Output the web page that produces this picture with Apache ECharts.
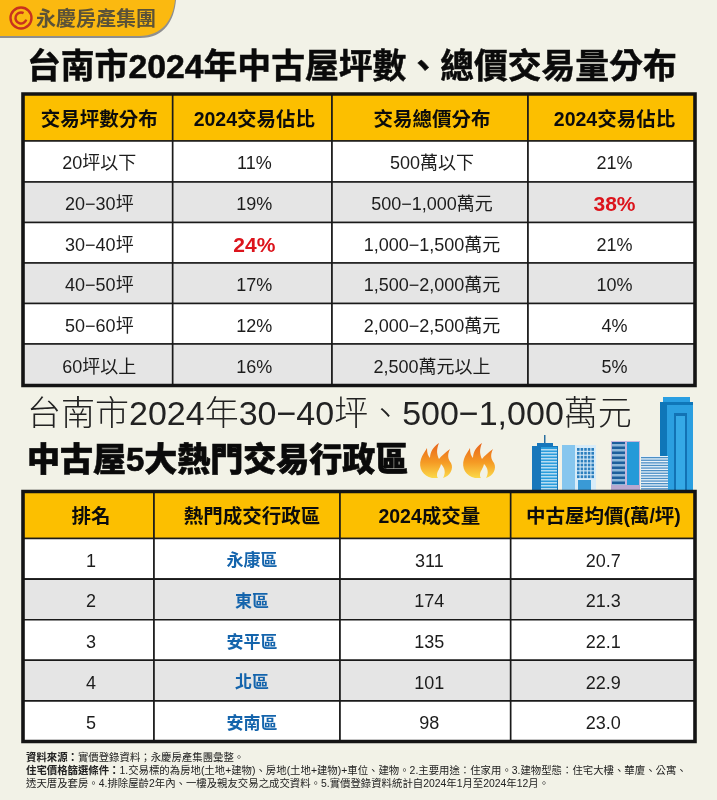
<!DOCTYPE html>
<html>
<head>
<meta charset="utf-8">
<script src="https://cdn.jsdelivr.net/npm/echarts@6/dist/echarts.min.js"></script>
<style>
  html, body { margin: 0; padding: 0; background: #f2f2e7; }
  #chart { width: 717px; height: 800px; }
</style>
</head>
<body>
<div id="chart"></div>
<script>
// table 1
const sizeHeaders = ["交易坪數分布", "2024交易佔比", "交易總價分布", "2024交易佔比"];
const sizeRanges = ["20坪以下", "20−30坪", "30−40坪", "40−50坪", "50−60坪", "60坪以上"];
const sizeShares = [11, 19, 24, 17, 12, 16];
const priceRanges = ["500萬以下", "500−1,000萬元", "1,000−1,500萬元", "1,500−2,000萬元", "2,000−2,500萬元", "2,500萬元以上"];
const priceShares = [21, 38, 21, 10, 4, 5];

// table 2
const rankHeaders = ["排名", "熱門成交行政區", "2024成交量", "中古屋均價(萬/坪)"];
const ranks = [1, 2, 3, 4, 5];
const districts = ["永康區", "東區", "安平區", "北區", "安南區"];
const volumes = [311, 174, 135, 101, 98];
const avgPrices = [20.7, 21.3, 22.1, 22.9, 23.0];

const FONT = '"Liberation Sans", "Noto Sans CJK TC", sans-serif';
const YELLOW = "#fcbf00";
const GRAY = "#e5e5e5";
const BLACK = "#141414";

// column and row edges of each table, in px from the table's corner
const colEdges1 = [0, 149.7, 309, 505, 672];
const rowEdges1 = [0, 47, 88, 128.5, 169, 209.5, 250, 291.5];
const colEdges2 = [0, 131, 317, 487.7, 672];
const rowEdges2 = [0, 47, 87.6, 128.2, 168.8, 209.4, 250];
// the text does not sit quite in the middle of its column
const textShift1 = [1.5, 2, 2, 3];
const textShift2 = [2.5, 5, 4, 0.5];

// kind: h header, n normal, r red highlight, b blue district
function buildCells(headers, columns) {
  const cells = [];
  headers.forEach((h, c) => cells.push({ value: [c, 0], text: h, kind: "h" }));
  columns.forEach((col, c) => {
    col.forEach((item, r) => {
      cells.push({ value: [c, r + 1], text: item.text, kind: item.kind });
    });
  });
  return cells;
}

const pct = (v, arr) => ({ text: v + "%", kind: v === Math.max(...arr) ? "r" : "n" });
const plain = v => ({ text: String(v), kind: "n" });

const cells1 = buildCells(sizeHeaders, [
  sizeRanges.map(plain),
  sizeShares.map(v => pct(v, sizeShares)),
  priceRanges.map(plain),
  priceShares.map(v => pct(v, priceShares))
]);
const cells2 = buildCells(rankHeaders, [
  ranks.map(plain),
  districts.map(v => ({ text: v, kind: "b" })),
  volumes.map(plain),
  avgPrices.map(v => plain(v.toFixed(1)))
]);

function cellRenderer(cells, cols, rows, shifts) {
  return (params, api) => {
    const cell = cells[params.dataIndex];
    const c = api.value(0), r = api.value(1);
    const a = api.coord([cols[c], rows[r]]);
    const b = api.coord([cols[c + 1], rows[r + 1]]);
    let fill = "#fff";
    if (cell.kind === "h") fill = YELLOW;
    else if (r % 2 === 0) fill = GRAY;

    const style = { fill: "#1c1c1c", fontSize: 18, fontWeight: "normal" };
    if (cell.kind === "h") { style.fontSize = 19.5; style.fontWeight = "bold"; style.fill = "#0c0c0c"; }
    if (cell.kind === "r") { style.fontSize = 21; style.fontWeight = "bold"; style.fill = "#dc141c"; }
    if (cell.kind === "b") { style.fontSize = 17; style.fontWeight = "bold"; style.fill = "#1464ac"; }

    return {
      type: "group",
      children: [
        { type: "rect", shape: { x: a[0], y: a[1], width: b[0] - a[0], height: b[1] - a[1] },
          style: { fill: fill, stroke: "#1a1a1a", lineWidth: 1.6 } },
        { type: "text", style: Object.assign({
            x: (a[0] + b[0]) / 2 + shifts[c], y: (a[1] + b[1]) / 2 + 3,
            text: cell.text, align: "center", verticalAlign: "middle", fontFamily: FONT
          }, style) }
      ]
    };
  };
}

// thick outer frame on top of the cells
function frameRenderer(params) {
  const g = params.coordSys;
  return { type: "rect", shape: { x: g.x, y: g.y, width: g.width, height: g.height },
    style: { fill: "none", stroke: BLACK, lineWidth: 3.6 } };
}

const flamePath = "M13 35C4 33 -1 25 2 16C3 12 6 9 8 5C8 10 9 13 11 15C11 9 14 4 20 0C17 7 18 12 20 16C22 13 26 10 31 6C28 12 29 16 32 20C35 26 31 33 24 35C27 30 26 25 22 21C21 26 18 28 18 32C18 33 18 34 19 35C17 35 15 35 13 35Z";
const flameFill = { type: "linear", x: 0, y: 0, x2: 0, y2: 1, colorStops: [
  { offset: 0, color: "#e8641c" }, { offset: 0.55, color: "#f59a24" }, { offset: 1, color: "#fbd94a" }] };

function box(x, y, w, h, fill) {
  return { type: "rect", shape: { x, y, width: w, height: h }, style: { fill } };
}
function stripes(x, y, w, h, step, fill) {
  const out = [];
  for (let yy = y; yy < y + h; yy += step) out.push(box(x, yy, w, step / 2, fill));
  return out;
}
function windows(x, y, nx, ny, fill) {
  const out = [];
  for (let i = 0; i < nx; i++) for (let j = 0; j < ny; j++) out.push(box(x + i * 3.6, y + j * 3.9, 2.6, 2.8, fill));
  return out;
}

const decoration = [
  // logo tab
  { type: "path", shape: { pathData: "M0 0H176C174 20 165 38 140 38H0Z" }, style: { fill: "#8f8f8f" } },
  { type: "path", shape: { pathData: "M0 0H175C173 19 163 36 139 36H0Z" }, style: { fill: "#fbb910" } },
  { type: "circle", shape: { cx: 21, cy: 18, r: 10.5 }, style: { fill: "none", stroke: "#c8321e", lineWidth: 2.4 } },
  { type: "arc", shape: { cx: 21, cy: 18, r: 5.5, startAngle: 0.3, endAngle: 5.2 }, style: { fill: "none", stroke: "#c8321e", lineWidth: 2.4 } },
  { type: "text", style: { x: 36, y: 18, text: "永慶房產集團", fontSize: 20, fontWeight: "bold", fill: "#5b5238",
      fontFamily: '"Noto Sans CJK TC"', verticalAlign: "middle" } },

  // flames
  { type: "path", x: 419, y: 443, shape: { pathData: flamePath }, style: { fill: flameFill } },
  { type: "path", x: 462, y: 443, shape: { pathData: flamePath }, style: { fill: flameFill } },

  // buildings
  box(660, 402, 33, 88, "#0f76b8"),
  box(663, 397, 27, 5, "#2a9fe2"),
  box(667, 405, 26, 85, "#2b9fe0"),
  box(674, 413, 13, 77, "#1272b4"),
  box(676, 416, 9, 74, "#35a9e6"),
  box(532, 446, 26, 44, "#1877bb"),
  box(544, 435, 1.5, 10, "#2a6f9f"),
  box(537, 443, 16, 3, "#1877bb"),
  box(541, 447, 16, 43, "#2b9ddc"),
  ...stripes(541, 449, 16, 40, 3, "#b6dcf2"),
  box(562, 445, 34, 45, "#d8ecf8"),
  box(562, 445, 13, 45, "#86c6ee"),
  ...windows(577, 448, 5, 8, "#2c7fbe"),
  box(578, 480, 13, 10, "#3a9ad6"),
  box(611, 441, 29, 45, "#c6b6dc"),
  box(612, 442, 13, 44, "#1c5f9c"),
  ...stripes(612, 444, 13, 42, 5, "#8fb8d8"),
  box(627, 442, 12, 44, "#249ad8"),
  box(611, 485, 29, 5, "#b8a8d0"),
  box(641, 456, 27, 34, "#e8f2fa"),
  ...stripes(641, 457, 27, 33, 2.6, "#4c8fc4")
];

const footerStyle = {
  fontFamily: FONT, fontSize: 10.4, fontWeight: "normal", color: "#222",
  rich: { b: { fontWeight: "bold", fontSize: 10.4, color: "#222", fontFamily: FONT } }
};

const option = {
  backgroundColor: "#f2f2e7",
  animation: false,
  title: [
    { text: "台南市2024年中古屋坪數、總價交易量分布", left: 27, top: 52, padding: 0,
      textStyle: { fontFamily: FONT, fontSize: 33.8, fontWeight: "bold", color: "#0a0a0a", textBorderColor: "#0a0a0a", textBorderWidth: 0.5 } },
    { text: "台南市2024年30−40坪、500−1,000萬元", left: 27, top: 399, padding: 0,
      textStyle: { fontFamily: FONT, fontSize: 34, fontWeight: 300, color: "#222" } },
    { text: "中古屋5大熱門交易行政區", left: 27, top: 445, padding: 0,
      textStyle: { fontFamily: FONT, fontSize: 33, fontWeight: 900, color: "#0a0a0a", textBorderColor: "#0a0a0a", textBorderWidth: 0.6 } },
    { text: "{b|資料來源：}實價登錄資料；永慶房產集團彙整。", left: 26, top: 753, padding: 0, textStyle: footerStyle },
    { text: "{b|住宅價格篩選條件：}1.交易標的為房地(土地+建物)、房地(土地+建物)+車位、建物。2.主要用途：住家用。3.建物型態：住宅大樓、華廈、公寓、", left: 26, top: 766, padding: 0, textStyle: footerStyle },
    { text: "透天厝及套房。4.排除屋齡2年內、一樓及親友交易之成交資料。5.實價登錄資料統計自2024年1月至2024年12月。", left: 26, top: 779, padding: 0, textStyle: footerStyle }
  ],
  grid: [
    { left: 23, top: 94, width: 672, height: 291.5 },
    { left: 23, top: 491.5, width: 672, height: 250 }
  ],
  xAxis: [
    { type: "value", gridIndex: 0, min: 0, max: 672, show: false },
    { type: "value", gridIndex: 1, min: 0, max: 672, show: false }
  ],
  yAxis: [
    { type: "value", gridIndex: 0, min: 0, max: 291.5, inverse: true, show: false },
    { type: "value", gridIndex: 1, min: 0, max: 250, inverse: true, show: false }
  ],
  series: [
    { type: "custom", xAxisIndex: 0, yAxisIndex: 0, data: cells1.map(c => c.value), clip: false,
      renderItem: cellRenderer(cells1, colEdges1, rowEdges1, textShift1), silent: true },
    { type: "custom", xAxisIndex: 0, yAxisIndex: 0, data: [[0, 0]], clip: false, z: 3,
      renderItem: frameRenderer, silent: true },
    { type: "custom", xAxisIndex: 1, yAxisIndex: 1, data: cells2.map(c => c.value), clip: false,
      renderItem: cellRenderer(cells2, colEdges2, rowEdges2, textShift2), silent: true },
    { type: "custom", xAxisIndex: 1, yAxisIndex: 1, data: [[0, 0]], clip: false, z: 3,
      renderItem: frameRenderer, silent: true },
    // logo, flames and buildings
    { type: "custom", xAxisIndex: 0, yAxisIndex: 0, data: [[0, 0]], clip: false, z: 1,
      renderItem: () => ({ type: "group", children: decoration }), silent: true }
  ]
};

const chart = echarts.init(document.getElementById("chart"), null, { renderer: "canvas" });
chart.setOption(option);
</script>
</body>
</html>
